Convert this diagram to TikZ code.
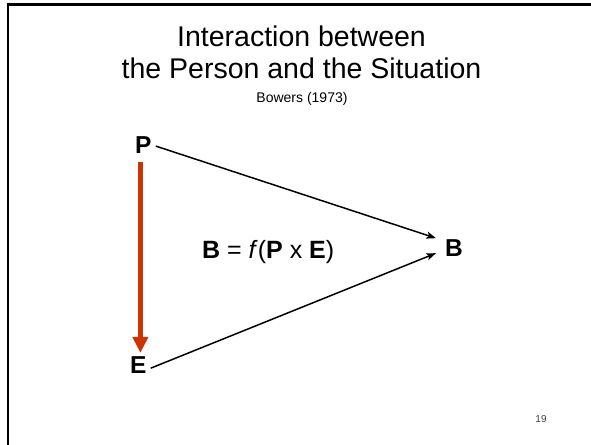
\documentclass[tikz,border=0pt]{standalone}
\usepackage{fontspec}
\setmainfont{Liberation Sans}
\usetikzlibrary{arrows.meta}
\definecolor{arrowred}{RGB}{204,51,0}
\definecolor{numgray}{RGB}{60,60,60}
\tikzset{
  titletext/.style={inner sep=0pt, anchor=base, font=\fontsize{28.5}{30}\selectfont},
  subtext/.style={inner sep=0pt, anchor=base, font=\fontsize{14}{16}\selectfont},
  lbl/.style={inner sep=0pt, anchor=base west, font=\fontsize{24.5}{26}\selectfont\bfseries},
  formula/.style={inner sep=0pt, anchor=base west, font=\fontsize{25}{27}\selectfont},
  pagenum/.style={inner sep=0pt, anchor=base, text=numgray, font=\fontsize{10}{12}\selectfont},
  blackarrow/.style={line width=1.5pt, -{Stealth[length=9.5pt,width=7pt,inset=2pt]}},
  redarrow/.style={draw=arrowred, line width=5pt, -{Triangle[length=16pt,width=15pt]}},
  frameline/.style={line width=2.5pt, line join=miter}
}
\begin{document}
\begin{tikzpicture}[x=1pt,y=-1pt]
\useasboundingbox (0,0) rectangle (591,444);
\draw[frameline] (8,446) -- (8,4.3) -- (593,4.3);
\node[titletext] (t1) at (301.5,47) {Interaction between};
\node[titletext] (t2) at (301.5,78) {the Person and the Situation};
\node[subtext] (t3) at (302,102) {Bowers (1973)};
\node[lbl] (P) at (135,153) {P};
\node[lbl] (E) at (130,373) {E};
\node[lbl] (B) at (445,256) {B};
\node[formula] (F) at (202,258) {\textbf{B} = \textit{f}(\textbf{P} x \textbf{E})};
\node[pagenum] (n) at (541,422) {19};
\draw[blackarrow] ([xshift=4pt,yshift=-1.5pt]P.east) -- ([xshift=-9pt,yshift=9.4pt]B.west);
\draw[blackarrow] ([xshift=4pt,yshift=-3.6pt]E.east) -- ([xshift=-9pt,yshift=-5.6pt]B.west);
\draw[redarrow] ([xshift=-3pt,yshift=-9pt]P.south) -- ([xshift=2pt,yshift=3pt]E.north);
\end{tikzpicture}
\end{document}
